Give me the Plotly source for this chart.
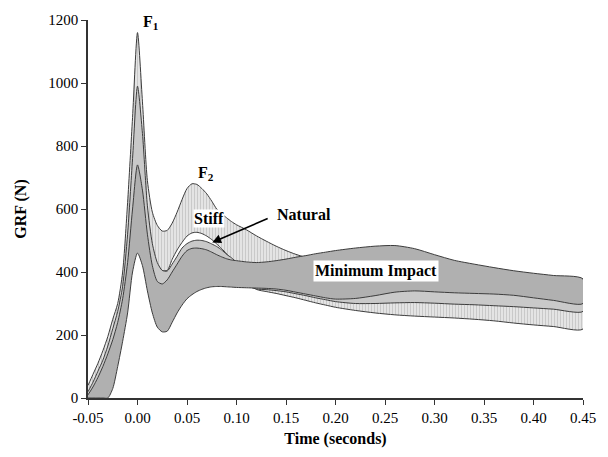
import plotly.graph_objects as go

time_s = [-0.05, -0.045, -0.04, -0.035, -0.03, -0.025, -0.02, -0.015, -0.01, -0.005,
          0.0, 0.005, 0.01, 0.015, 0.02, 0.025, 0.03, 0.035, 0.04, 0.045,
          0.05, 0.055, 0.06, 0.065, 0.07, 0.075, 0.08, 0.085, 0.09, 0.095,
          0.10, 0.11, 0.12, 0.13, 0.14, 0.15, 0.16, 0.17, 0.18, 0.19,
          0.20, 0.22, 0.24, 0.26, 0.28, 0.30, 0.32, 0.34, 0.36, 0.38,
          0.40, 0.42, 0.45]

stiff_upper = [40, 75, 110, 150, 195, 250, 300, 400, 620, 890,
               1160, 940, 690, 590, 548, 530, 532, 555, 590, 630,
               665, 680, 678, 665, 648, 625, 600, 585, 572, 560,
               550, 534, 515, 498, 482, 468, 456, 446, 436, 428,
               420, 410, 400, 390, 380, 372, 365, 358, 352, 347,
               342, 338, 332]
stiff_lower = [10, 30, 60, 95, 130, 175, 230, 310, 450, 650,
               880, 760, 560, 460, 420, 405, 405, 440, 470, 494,
               514, 524, 526, 522, 514, 503, 489, 474, 458, 430,
               405, 375, 345, 338, 332, 325, 318, 310, 302, 295,
               288, 278, 270, 264, 260, 257, 254, 250, 245, 238,
               232, 227, 219]

natural_upper = [20, 50, 85, 120, 165, 220, 275, 355, 520, 760,
                 990, 840, 610, 490, 430, 405, 403, 425, 450, 476,
                 490, 498, 501, 500, 496, 489, 481, 470, 456, 445,
                 432, 422, 415, 408, 402, 398, 395, 392, 390, 388,
                 386, 382, 378, 374, 370, 366, 362, 358, 355, 352,
                 350, 348, 345]
natural_lower = [0, 15, 40, 70, 105, 140, 190, 260, 360, 500,
                 620, 540, 420, 330, 280, 265, 270, 290, 310, 325,
                 340, 350, 358, 362, 365, 366, 366, 365, 364, 362,
                 360, 356, 346, 344, 341, 337, 331, 325, 318, 312,
                 306, 300, 300, 302, 303, 301, 298, 296, 293, 290,
                 286, 282, 275]

min_upper = [10, 35, 65, 100, 140, 185, 240, 315, 430, 600,
             740, 660, 520, 420, 370, 362, 375, 400, 425, 450,
             468, 475, 476, 474, 470, 463, 455, 448, 442, 438,
             436, 432, 430, 432, 436, 441, 447, 452, 458, 463,
             468, 476, 482, 484, 474, 455, 437, 425, 414, 404,
             396, 389, 378]
min_lower = [0, 0, 0, 0, 0, 30, 100, 180, 270, 400,
             460, 420, 340, 270, 225, 210, 212, 240, 270, 295,
             315, 328, 338, 345, 350, 353, 354, 354, 353, 352,
             351, 350, 349, 348, 346, 342, 336, 330, 324, 318,
             314, 316, 325, 336, 340, 337, 334, 332, 330, 326,
             318, 310, 300]

x_tick_vals = [-0.05, 0.0, 0.05, 0.10, 0.15, 0.20, 0.25, 0.30, 0.35, 0.40, 0.45]
x_tick_text = ["-0.05", "0.00", "0.05", "0.10", "0.15", "0.20", "0.25", "0.30", "0.35", "0.40", "0.45"]
y_tick_vals = [0, 200, 400, 600, 800, 1000, 1200]

SERIF = "Liberation Serif"
LINE = "#3c3c3c"


def band(upper, lower, **kw):
    xs = list(time_s) + list(time_s[::-1])
    ys = list(upper) + list(lower[::-1])
    return go.Scatter(x=xs, y=ys, mode="lines", fill="toself",
                      line=dict(color=LINE, width=1, shape="spline", smoothing=0.7),
                      showlegend=False, hoverinfo="skip", **kw)


fig = go.Figure()
fig.add_trace(band(stiff_upper, stiff_lower, fillcolor="#e2e2e2",
                   fillpattern=dict(shape="|", bgcolor="#e4e4e4", fgcolor="#a8a8a8",
                                    size=3, solidity=0.3)))
fig.add_trace(band(natural_upper, natural_lower, fillcolor="#c9c9c9"))
fig.add_trace(band(min_upper, min_lower, fillcolor="#b0b0b0"))

lab = dict(family=SERIF, size=16, color="black")
fig.add_annotation(x=0.014, y=1192, text="<b>F<sub>1</sub></b>", showarrow=False, font=lab)
fig.add_annotation(x=0.0695, y=712, text="<b>F<sub>2</sub></b>", showarrow=False, font=lab)
fig.add_annotation(x=0.0725, y=569, text="<b>Stiff</b>", showarrow=False, font=lab,
                   bgcolor="white", borderpad=0)
fig.add_annotation(x=0.168, y=584, text="<b>Natural</b>", showarrow=False, font=lab)
fig.add_annotation(x=0.0755, y=494, ax=0.133, ay=572, axref="x", ayref="y",
                   text="", showarrow=True, arrowhead=2, arrowsize=1.1,
                   arrowwidth=1.6, arrowcolor="black")
fig.add_annotation(x=0.241, y=403, text="<b>Minimum Impact</b>", showarrow=False, font=lab,
                   bgcolor="white", borderpad=1)

fig.update_layout(
    width=608, height=457,
    margin=dict(l=88, r=22, t=15, b=58),
    paper_bgcolor="white", plot_bgcolor="white",
    font=dict(family=SERIF, size=15, color="black"),
    xaxis=dict(range=[-0.05, 0.45], tickvals=x_tick_vals, ticktext=x_tick_text,
               ticks="outside", ticklen=5, tickcolor="#333", showline=True,
               linecolor="#333", linewidth=1.5, showgrid=False, zeroline=False,
               title=dict(text="<b>Time (seconds)</b>", font=dict(family=SERIF, size=16),
                          standoff=8)),
    yaxis=dict(range=[0, 1200], tickvals=y_tick_vals, ticks="outside", ticklen=5,
               tickcolor="#333", showline=True, linecolor="#333", linewidth=1.5,
               showgrid=False, zeroline=False,
               title=dict(text="<b>GRF (N)</b>", font=dict(family=SERIF, size=16),
                          standoff=18)),
)

fig.write_html("out.html")
